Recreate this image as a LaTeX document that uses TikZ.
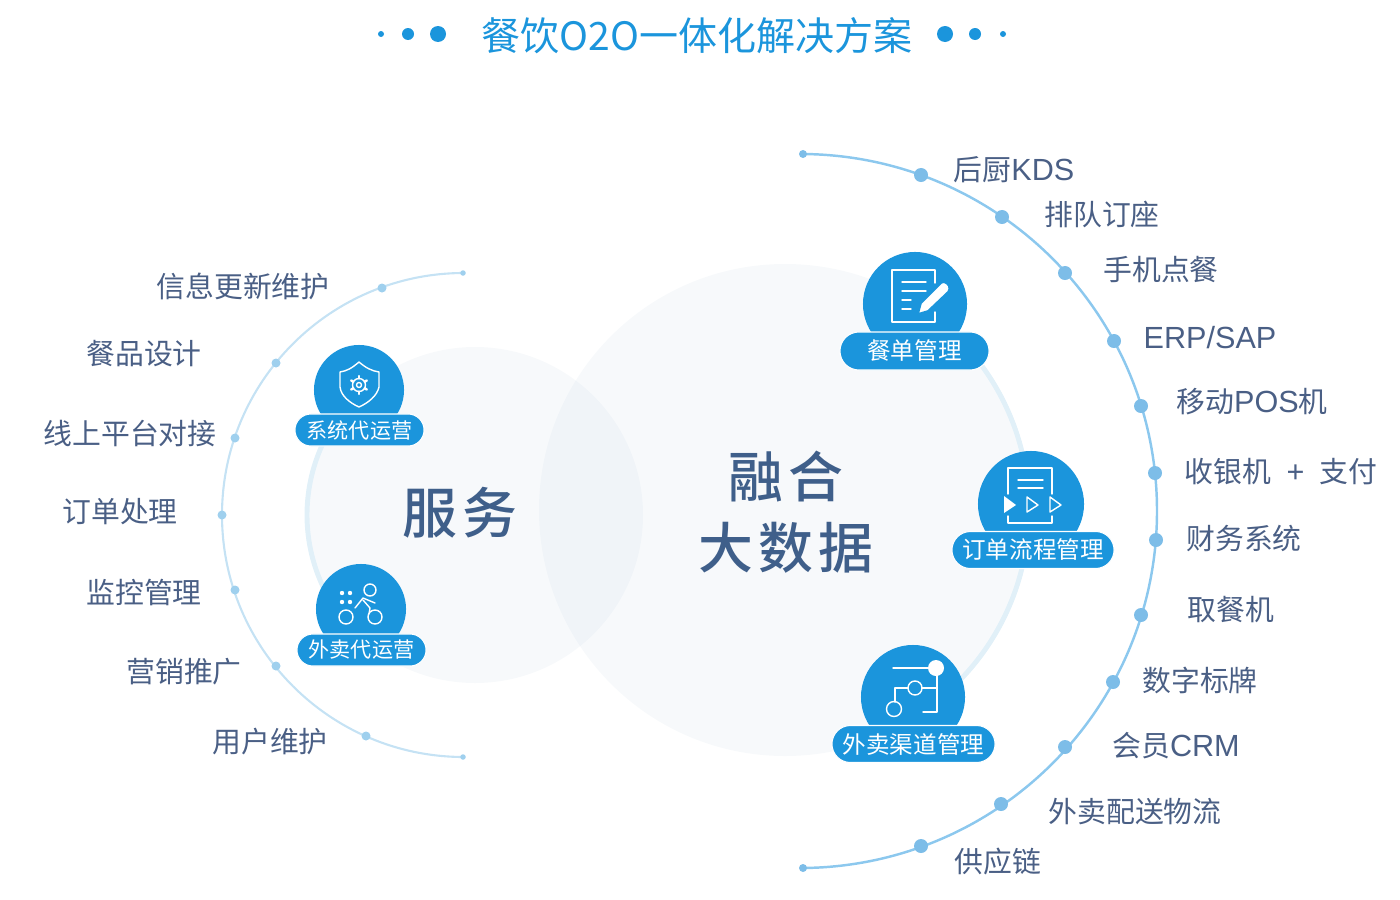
\documentclass[tikz,border=0pt]{standalone}
\usepackage{fontspec}
\setmainfont{Noto Sans CJK SC}
\newfontfamily\headfont[LetterSpace=10]{Noto Sans CJK SC Medium}
\newfontfamily\widefont{Liberation Sans}
\usetikzlibrary{shapes.misc}

\definecolor{badgeblue}{HTML}{1B95DC}
\definecolor{arcblue}{HTML}{8CC8EE}
\definecolor{dotblue}{HTML}{7DBDE8}
\definecolor{paleblue}{HTML}{C5E2F4}
\definecolor{paledot}{HTML}{9FD0EE}
\definecolor{ringblue}{HTML}{E1F0F8}
\definecolor{discgray}{HTML}{9BB4CD}
\definecolor{textblue}{HTML}{4A5F85}
\definecolor{headblue}{HTML}{3F5F8A}

\newcommand{\wide}[1]{{\fontsize{8.7}{10}\selectfont\widefont #1}}

\tikzset{
    disc/.style={fill=discgray, fill opacity=0.08, draw=none},
    ring/.style={draw=ringblue, line width=1.4pt},
    rim/.style={draw=arcblue, line width=0.7pt},
    palerim/.style={draw=paleblue, line width=0.6pt},
    rimdot/.style={circle, fill=dotblue, inner sep=0pt},
    paledotnode/.style={circle, fill=paledot, inner sep=0pt},
    listlabel/.style={text=textblue, font=\fontsize{8.2}{10}\selectfont},
    head/.style={text=headblue, align=center, font=\fontsize{15.6}{19.5}\selectfont\headfont},
    dome/.style={circle, fill=badgeblue, inner sep=0pt},
    pill/.style={rounded rectangle, fill=badgeblue, draw=white, line width=0.3pt, inner sep=0pt,
        text=white, font=\fontsize{6.7}{9}\selectfont},
    smallpill/.style={pill, font=\fontsize{6}{8}\selectfont},
    icon/.style={draw=white, line width=0.4pt, line cap=round, line join=round},
    iconfill/.style={fill=white, draw=none}
}

\begin{document}
\begin{tikzpicture}[x=0.01cm, y=-0.01cm]

    \useasboundingbox (0,0) rectangle (1400,900);

    % Title
    \node[text=badgeblue, font=\fontsize{11.1}{13}\selectfont] (title) at (697,36) {餐饮O2O一体化解决方案};
    \foreach \n/\x/\d in {a/381/6, b/408/12, c/438/16, d/945/16, e/975/12, f/1003/6} {
        \node[circle, fill=badgeblue, inner sep=0pt, minimum size=\d*0.01cm] (title\n) at (\x,34) {};
    }

    % Discs
    \fill[disc] (475,515) circle (168);
    \fill[disc] (785,510) circle (246);
    \draw[ring] (475,515) ++(135:168) arc[start angle=135, end angle=225, radius=168];
    \draw[ring] (785,510) ++(-55:244) arc[start angle=-55, end angle=55, radius=244];

    % Rim on the left
    \coordinate (leftbegin) at (464,273);
    \draw[palerim] (leftbegin) arc[start angle=-90, end angle=-270, radius=242];
    \foreach \n/\x/\y in {1/382/288, 2/276/363, 3/235/438, 4/222/515, 5/235/590, 6/276/666, 7/366/736} {
        \node[paledotnode, minimum size=0.09cm] (leftdot\n) at (\x,\y) {};
    }
    \node[paledotnode, minimum size=0.055cm] (lefttop) at (463,273) {};
    \node[paledotnode, minimum size=0.055cm] (leftbottom) at (463,757) {};

    % Rim on the right
    \coordinate (rightbegin) at (800,154);
    \draw[rim] (rightbegin) arc[start angle=-90, end angle=90, radius=357];
    \foreach \n/\x/\y in {1/921/175, 2/1002/217, 3/1065/273, 4/1114/341, 5/1141/406, 6/1155/473,
                          7/1156/540, 8/1141/615, 9/1113/682, 10/1065/747, 11/1001/804, 12/921/846} {
        \node[rimdot, minimum size=0.14cm] (rightdot\n) at (\x,\y) {};
    }
    \node[rimdot, minimum size=0.08cm] (righttop) at (803,154) {};
    \node[rimdot, minimum size=0.08cm] (rightbottom) at (803,868) {};

    % Labels on the left
    \node[listlabel] (leftlabel1) at (243,286) {信息更新维护};
    \node[listlabel] (leftlabel2) at (144,354) {餐品设计};
    \node[listlabel] (leftlabel3) at (130,434) {线上平台对接};
    \node[listlabel] (leftlabel4) at (120,512) {订单处理};
    \node[listlabel] (leftlabel5) at (144,592) {监控管理};
    \node[listlabel] (leftlabel6) at (184,672) {营销推广};
    \node[listlabel] (leftlabel7) at (270,742) {用户维护};

    % Labels on the right
    \node[listlabel] (rightlabel1) at (1014,170) {后厨\wide{KDS}};
    \node[listlabel] (rightlabel2) at (1102,214) {排队订座};
    \node[listlabel] (rightlabel3) at (1161,270) {手机点餐};
    \node[listlabel] (rightlabel4) at (1210,338) {\wide{ERP/SAP}};
    \node[listlabel] (rightlabel5) at (1252,402) {移动\wide{POS}机};
    \node[listlabel] (rightlabel6) at (1281,472) {收银机\hspace{0.09cm} \wide{+} \hspace{0.09cm}支付};
    \node[listlabel] (rightlabel7) at (1244,538) {财务系统};
    \node[listlabel] (rightlabel8) at (1231,610) {取餐机};
    \node[listlabel] (rightlabel9) at (1200,680) {数字标牌};
    \node[listlabel] (rightlabel10) at (1176,746) {会员\wide{CRM}};
    \node[listlabel] (rightlabel11) at (1135,812) {外卖配送物流};
    \node[listlabel] (rightlabel12) at (998,862) {供应链};

    % Centre words
    \node[head] (service) at (460,513) {服务};
    \node[head] (merge) at (786,512) {融合\\[0.03cm]大数据};

    % Badges
    \node[dome, minimum size=0.90cm] (domea) at (359,390) {};
    \node[smallpill, minimum width=1.29cm, minimum height=0.32cm] (pilla) at (359.5,430) {系统代运营};
    \node[dome, minimum size=0.90cm] (domeb) at (361,609) {};
    \node[smallpill, minimum width=1.29cm, minimum height=0.32cm] (pillb) at (361.5,650) {外卖代运营};
    \node[dome, minimum size=1.04cm] (domec) at (915,304) {};
    \node[pill, minimum width=1.49cm, minimum height=0.38cm] (pillc) at (914.5,351) {餐单管理};
    \node[dome, minimum size=1.06cm] (domed) at (1031,504) {};
    \node[pill, minimum width=1.62cm, minimum height=0.37cm] (pilld) at (1033,550) {订单流程管理};
    \node[dome, minimum size=1.04cm] (domee) at (913,697) {};
    \node[pill, minimum width=1.63cm, minimum height=0.37cm] (pille) at (913.5,744) {外卖渠道管理};

    % Shield icon
    \draw[icon] (359,362) .. controls (352,368) and (347,371) .. (340,372) -- (340,387)
        .. controls (341,396) and (350,403) .. (359,407)
        .. controls (368,403) and (377,396) .. (379,387) -- (379,372)
        .. controls (372,371) and (366,368) .. (359,362) -- cycle;
    \draw[icon] (359,385) circle (6.5);
    \foreach \a in {30,90,...,330} {
        \draw[icon, line width=0.7pt] (359,385) ++(\a:6.5) -- ++(\a:2.5);
    }
    \draw[icon] (359,385) circle (2.5);

    % Rider icon
    \foreach \x/\y in {342/593, 350/593, 342/602, 350/602} {
        \fill[iconfill] (\x,\y) circle (2.2);
    }
    \draw[icon] (370,590) circle (6);
    \draw[icon] (346,617) circle (7);
    \draw[icon] (375,617) circle (7);
    \draw[icon] (355,608) -- (363,598) -- (375,603);
    \draw[icon] (363,600) -- (370,608) -- (369,614);

    % Menu icon
    \draw[icon] (935,312) -- (935,322) -- (892,322) -- (892,270) -- (935,270) -- (935,283);
    \draw[icon] (902,282) -- (926,282);
    \draw[icon] (902,291) -- (926,291);
    \draw[icon] (902,300) -- (911,300);
    \draw[icon] (902,309) -- (911,309);
    \draw[draw=badgeblue, line width=0.5pt, fill=white] (918,314) -- (921,303) -- (941,283)
        .. controls (944,281) and (947,283) .. (949,286) .. controls (950,288) and (949,291) .. (948,292)
        -- (928,311) -- cycle;

    % Order flow icon
    \draw[icon] (1008,494) -- (1008,468) -- (1052,468) -- (1052,494);
    \draw[icon] (1008,516) -- (1008,523) -- (1052,523) -- (1052,516);
    \draw[icon] (1018,480) -- (1043,480);
    \draw[icon] (1018,488) -- (1043,488);
    \fill[iconfill] (1004,496) -- (1016,505) -- (1004,513) -- cycle;
    \draw[icon] (1027,497) -- (1038,505) -- (1027,512) -- cycle;
    \draw[icon] (1050,497) -- (1061,505) -- (1050,512) -- cycle;

    % Channel icon
    \draw[icon] (893,668) -- (932,668);
    \fill[iconfill] (936,668) circle (8);
    \draw[icon] (937,673) -- (937,712) -- (923,712);
    \draw[icon] (915,688) circle (7);
    \draw[icon] (922,688) -- (937,688);
    \draw[icon] (908,688) -- (895,688) -- (895,702);
    \draw[icon] (894,709) circle (7.5);

\end{tikzpicture}
\end{document}
